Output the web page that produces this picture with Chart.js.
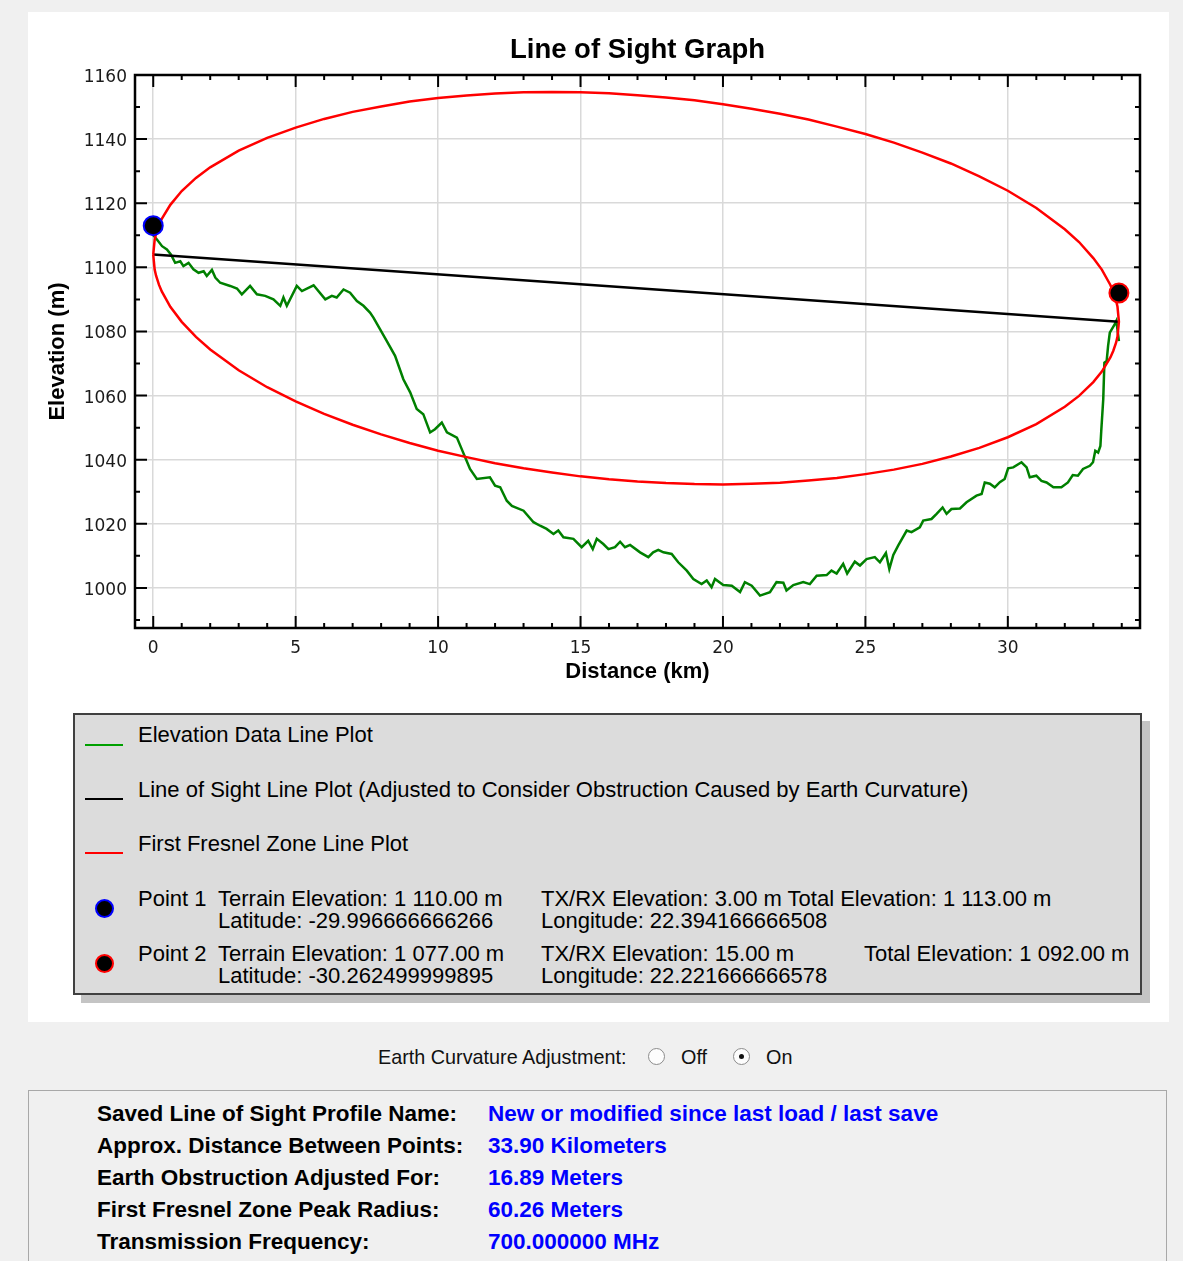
<!DOCTYPE html>
<html>
<head>
<meta charset="utf-8">
<script src="https://cdn.jsdelivr.net/npm/chart.js@4.4.0/dist/chart.umd.min.js"></script>
<style>
html,body{margin:0;padding:0;}
body{width:1183px;height:1261px;background:#f0f0f0;position:relative;overflow:hidden;font-family:'Liberation Sans',Arial,sans-serif;}
#panel{position:absolute;left:28px;top:12px;width:1141px;height:1010px;background:#fff;}
#chartWrap{position:absolute;left:0;top:0;width:1183px;height:700px;}
#legendBox{position:absolute;left:73px;top:713px;width:1069px;height:282px;box-sizing:border-box;border:2px solid #404040;background:#dcdcdc;box-shadow:8px 8px 0 #c4c4c4;}
.t{position:absolute;white-space:nowrap;font-size:22px;line-height:22px;color:#000;}
.ln{position:absolute;left:85px;width:38px;height:2px;}
.mk{position:absolute;left:94.5px;width:19px;height:19px;box-sizing:border-box;border-radius:50%;background:#000;border:2px solid;}
.c{position:absolute;white-space:nowrap;font-size:19.8px;line-height:20px;color:#111;}
.radio{position:absolute;top:1047.5px;width:17px;height:17px;box-sizing:border-box;border-radius:50%;border:1px solid #8c8c8c;background:#fdfdfd;}
.radio.on::after{content:'';position:absolute;left:5px;top:5px;width:5px;height:5px;border-radius:50%;background:#111;}
#info{position:absolute;left:28px;top:1090px;width:1139px;height:220px;box-sizing:border-box;border:1px solid #a8a8a8;background:#f0f0f0;}
.lb{position:absolute;left:97px;white-space:nowrap;font-size:22.5px;line-height:24px;font-weight:bold;color:#000;}
.vl{position:absolute;left:488px;white-space:nowrap;font-size:22.5px;line-height:24px;font-weight:bold;color:#0000ff;}
</style>
</head>
<body>
<div id="panel"></div>
<div id="chartWrap"><canvas id="c" width="1183" height="700" style="width:1183px;height:700px"></canvas></div>

<div id="legendBox"></div>
<div class="ln" style="top:744px;background:#00a000"></div>
<div class="t" style="left:138px;top:723.5px">Elevation Data Line Plot</div>
<div class="ln" style="top:798px;background:#000"></div>
<div class="t" style="left:138px;top:778.5px">Line of Sight Line Plot (Adjusted to Consider Obstruction Caused by Earth Curvature)</div>
<div class="ln" style="top:852px;background:#ff0000"></div>
<div class="t" style="left:138px;top:832.5px">First Fresnel Zone Line Plot</div>

<div class="mk" style="top:898.5px;border-color:#0000ff"></div>
<div class="t" style="left:138px;top:887.5px">Point 1</div>
<div class="t" style="left:218px;top:887.5px">Terrain Elevation: 1 110.00 m</div>
<div class="t" style="left:541px;top:887.5px">TX/RX Elevation: 3.00 m Total Elevation: 1 113.00 m</div>
<div class="t" style="left:218px;top:909.5px">Latitude: -29.996666666266</div>
<div class="t" style="left:541px;top:909.5px">Longitude: 22.394166666508</div>

<div class="mk" style="top:953.5px;border-color:#ff0000"></div>
<div class="t" style="left:138px;top:942.5px">Point 2</div>
<div class="t" style="left:218px;top:942.5px">Terrain Elevation: 1 077.00 m</div>
<div class="t" style="left:541px;top:942.5px">TX/RX Elevation: 15.00 m</div>
<div class="t" style="left:864px;top:942.5px">Total Elevation: 1 092.00 m</div>
<div class="t" style="left:218px;top:964.5px">Latitude: -30.262499999895</div>
<div class="t" style="left:541px;top:964.5px">Longitude: 22.221666666578</div>

<div class="c" style="left:378px;top:1047px">Earth Curvature Adjustment:</div>
<div class="radio" style="left:647.5px"></div>
<div class="c" style="left:681px;top:1047px">Off</div>
<div class="radio on" style="left:732.5px"></div>
<div class="c" style="left:766px;top:1047px">On</div>

<div id="info"></div>
<div class="lb" style="top:1102px">Saved Line of Sight Profile Name:</div>
<div class="vl" style="top:1102px">New or modified since last load / last save</div>
<div class="lb" style="top:1134px">Approx. Distance Between Points:</div>
<div class="vl" style="top:1134px">33.90 Kilometers</div>
<div class="lb" style="top:1166px">Earth Obstruction Adjusted For:</div>
<div class="vl" style="top:1166px">16.89 Meters</div>
<div class="lb" style="top:1198px">First Fresnel Zone Peak Radius:</div>
<div class="vl" style="top:1198px">60.26 Meters</div>
<div class="lb" style="top:1230px">Transmission Frequency:</div>
<div class="vl" style="top:1230px">700.000000 MHz</div>

<script>
// ---- data ----
const xTicks = [0, 5, 10, 15, 20, 25, 30];
const yTicks = [1000, 1020, 1040, 1060, 1080, 1100, 1120, 1140, 1160];

const terrainKm = [0.00,0.13,0.31,0.48,0.62,0.77,0.95,1.06,1.24,1.41,
1.59,1.77,1.88,2.06,2.18,2.35,2.70,2.94,3.11,3.40,
3.64,3.93,4.22,4.46,4.57,4.69,5.04,5.22,5.63,6.04,
6.27,6.44,6.68,6.91,7.15,7.38,7.61,7.73,7.96,8.20,
8.49,8.78,9.02,9.25,9.48,9.72,9.89,10.13,10.31,10.66,
10.83,11.00,11.12,11.36,11.82,12.00,12.18,12.41,12.59,13.00,
13.35,13.58,13.81,14.05,14.22,14.40,14.75,15.04,15.27,15.43,
15.57,15.80,15.98,16.21,16.39,16.56,16.74,17.09,17.38,17.55,
17.73,17.91,18.20,18.43,18.73,18.96,19.25,19.43,19.60,19.72,
20.01,20.31,20.60,20.77,21.01,21.30,21.65,21.88,22.12,22.23,
22.47,22.82,23.05,23.29,23.64,23.81,23.99,24.22,24.36,24.63,
24.81,25.04,25.33,25.51,25.72,25.84,25.98,26.15,26.45,26.62,
26.91,27.03,27.32,27.50,27.71,27.85,28.02,28.32,28.55,28.90,
29.08,29.19,29.37,29.54,29.72,29.89,30.01,30.19,30.48,30.66,
30.77,31.00,31.18,31.36,31.60,31.88,32.11,32.28,32.46,32.64,
32.88,32.99,33.07,33.17,33.25,33.28,33.35,33.39,33.47,33.52,
33.58,33.75,33.81,33.90];
const terrainElev = [1110.0,1108.7,1106.6,1105.6,1104.0,1101.4,1101.9,1100.4,1101.4,1099.4,
1098.3,1098.8,1097.3,1099.2,1096.8,1095.2,1094.2,1093.4,1091.6,1094.2,
1091.6,1091.1,1090.0,1088.0,1090.6,1088.0,1094.2,1092.6,1094.4,1090.0,
1091.1,1090.6,1093.1,1092.1,1089.5,1088.0,1085.9,1084.3,1080.7,1077.0,
1072.4,1065.1,1061.0,1055.8,1054.2,1048.5,1049.5,1051.6,1048.5,1046.9,
1043.3,1039.7,1037.1,1034.0,1034.5,1031.9,1031.4,1027.2,1025.6,1024.1,
1020.5,1019.4,1018.4,1016.8,1017.9,1015.8,1015.3,1012.7,1014.7,1012.1,
1015.3,1013.7,1012.1,1012.7,1014.4,1012.7,1013.4,1011.1,1009.6,1011.1,
1011.9,1011.1,1010.6,1008.0,1005.4,1002.8,1001.2,1002.3,1000.2,1002.8,
1000.9,1000.7,998.7,1001.8,1000.7,997.6,998.7,1001.8,1001.6,999.2,
1000.9,1001.8,1001.2,1003.8,1004.0,1005.4,1004.5,1007.5,1004.5,1008.2,
1007.0,1009.0,1009.6,1008.0,1010.9,1005.9,1010.3,1013.2,1017.9,1017.4,
1018.9,1021.0,1021.5,1023.1,1025.1,1023.1,1024.6,1024.8,1026.7,1028.8,
1029.3,1032.9,1032.5,1031.4,1033.0,1034.0,1037.3,1037.6,1039.2,1037.6,
1034.5,1035.0,1033.4,1032.9,1031.4,1031.4,1032.9,1035.2,1035.0,1037.1,
1038.1,1039.2,1042.8,1042.2,1044.3,1049.0,1058.9,1070.3,1070.8,1075.5,
1079.6,1082.2,1083.3,1077.0];

const losKm = [0, 33.9];
const losElev = [1104, 1083];

const fresnelKm = [0,0.05,0.1,0.2,0.3,0.6,1,1.5,2,
3,4,5,6,7,8,9,10,11,12,13,14,15,16,17,18,19,20,21,22,23,24,25,26,27,28,29,30,31,32,
32.5,33,33.3,33.6,33.7,33.8,33.85,33.9];
const fresnelUpper = [1104.0,1108.6,1110.5,1113.1,1115.1,1119.5,1123.8,1127.9,1131.2,
1136.4,1140.4,1143.6,1146.3,1148.5,1150.2,1151.7,1152.8,1153.6,1154.2,1154.6,1154.7,1154.6,1154.3,1153.7,1153.0,
1152.1,1150.9,1149.5,1147.9,1146.1,1143.9,1141.6,1138.9,1135.8,1132.4,1128.4,1123.9,1118.5,1111.9,
1107.9,1102.9,1099.3,1094.5,1092.4,1089.6,1087.7,1083.0];
const fresnelLower = [1104.0,1099.3,1097.4,1094.6,1092.5,1087.7,1083.0,1078.3,1074.4,
1067.9,1062.6,1058.2,1054.3,1050.9,1047.9,1045.2,1042.8,1040.8,1038.9,1037.3,1036.0,1034.8,1033.9,1033.2,1032.7,
1032.4,1032.3,1032.5,1032.8,1033.5,1034.3,1035.5,1036.9,1038.7,1041.0,1043.7,1047.0,1051.1,1056.5,
1059.9,1064.2,1067.5,1071.9,1073.9,1076.5,1078.4,1083.0];

const pointKm = [0, 33.9];
const pointElev = [1113, 1092];
const pointBorder = ['#0000ff', '#ff0000'];

// ---- build library data ----
const zip = (xs, ys) => xs.map((x, i) => ({x: x, y: ys[i]}));
const terrainData = zip(terrainKm, terrainElev);
const losData = zip(losKm, losElev);
const fresnelData = zip(fresnelKm, fresnelUpper).concat(zip(fresnelKm, fresnelLower).reverse());
const pointData = zip(pointKm, pointElev);

const FONT = "'Liberation Sans', Arial, sans-serif";
const TICKFONT = "'DejaVu Sans', Verdana, sans-serif";

const frame = {
  id: 'frame',
  afterDraw(chart) {
    const {ctx, chartArea: a, scales} = chart;
    const xs = scales.x, ys = scales.y;
    ctx.save();
    ctx.strokeStyle = '#000';
    ctx.lineWidth = 2;
    ctx.beginPath();
    for (let v = Math.ceil(xs.min); v <= xs.max; v++) {
      const major = xTicks.includes(v);
      const px = xs.getPixelForValue(v);
      const len = major ? 12 : 5;
      ctx.moveTo(px, a.bottom); ctx.lineTo(px, a.bottom - len);
      ctx.moveTo(px, a.top); ctx.lineTo(px, a.top + len);
    }
    for (let v = Math.ceil(ys.min / 10) * 10; v <= ys.max; v += 10) {
      const major = yTicks.includes(v);
      const py = ys.getPixelForValue(v);
      ctx.moveTo(a.left, py); ctx.lineTo(a.left + (major ? 12 : 5), py);
      ctx.moveTo(a.right, py); ctx.lineTo(a.right - (major ? 6 : 5), py);
    }
    ctx.stroke();
    ctx.lineWidth = 2.5;
    ctx.strokeRect(a.left, a.top, a.right - a.left, a.bottom - a.top);
    ctx.restore();
  }
};

new Chart(document.getElementById('c'), {
  type: 'scatter',
  data: {
    datasets: [
      { label: 'Points', data: pointData, showLine: false, pointRadius: 9.5, pointHoverRadius: 9.5,
        pointBackgroundColor: '#000', pointBorderColor: pointBorder, pointBorderWidth: 2 },
      { label: 'First Fresnel Zone', data: fresnelData, showLine: true, borderColor: '#ff0000',
        borderWidth: 2.5, pointRadius: 0, tension: 0, fill: false },
      { label: 'Line of Sight', data: losData, showLine: true, borderColor: '#000000',
        borderWidth: 2.5, pointRadius: 0, tension: 0 },
      { label: 'Elevation', data: terrainData, showLine: true, borderColor: '#008000',
        borderWidth: 2.5, pointRadius: 0, tension: 0 }
    ]
  },
  options: {
    responsive: false,
    animation: false,
    layout: { padding: { left: 0, right: 43, top: 0, bottom: 0 } },
    plugins: {
      legend: { display: false },
      tooltip: { enabled: false },
      title: {
        display: true, fullSize: false, text: 'Line of Sight Graph', color: '#000',
        font: { family: FONT, size: 27.5, weight: 'bold', lineHeight: 1.2 },
        padding: { top: 33.5, bottom: 8.5 }
      }
    },
    scales: {
      x: {
        type: 'linear', min: -0.64, max: 34.64,
        afterBuildTicks: s => { s.ticks = xTicks.map(v => ({value: v})); },
        afterFit: s => { s.height = 72; },
        grid: { color: '#d9d9d9', lineWidth: 1.5, drawTicks: false },
        border: { display: false },
        ticks: { color: '#1a1a1a', padding: 10, font: { family: TICKFONT, size: 17 },
                 callback: v => String(v), maxRotation: 0, autoSkip: false },
        title: { display: true, text: 'Distance (km)', color: '#000',
                 font: { family: FONT, size: 22, weight: 'bold', lineHeight: 1.2 },
                 padding: { top: 0, bottom: 14.8 } }
      },
      y: {
        type: 'linear', min: 987.5, max: 1160,
        afterBuildTicks: s => { s.ticks = yTicks.map(v => ({value: v})); },
        afterFit: s => { s.width = 135; },
        grid: { color: '#d9d9d9', lineWidth: 1.5, drawTicks: false },
        border: { display: false },
        ticks: { color: '#1a1a1a', padding: 8, labelOffset: 2.5, font: { family: TICKFONT, size: 17 },
                 callback: v => String(v), autoSkip: false },
        title: { display: true, text: 'Elevation (m)', color: '#000',
                 font: { family: FONT, size: 22, weight: 'bold', lineHeight: 1.2 },
                 padding: { top: 44.8, bottom: 0 } }
      }
    }
  },
  plugins: [frame]
});
</script>
</body>
</html>
